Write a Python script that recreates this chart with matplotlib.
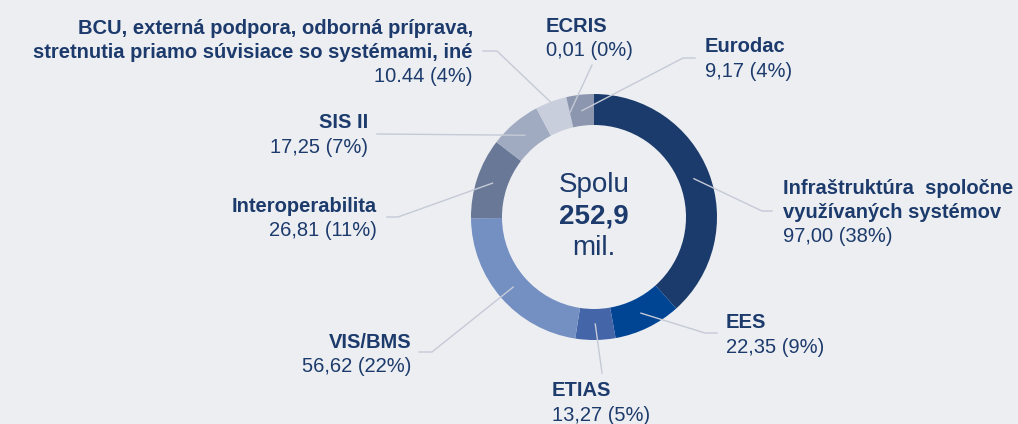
import numpy as np
import matplotlib
matplotlib.use("Agg")
import matplotlib.pyplot as plt

# data (clockwise from 12 o'clock)
names = ["Infraštruktúra  spoločne\nvyužívaných systémov", "EES", "ETIAS", "VIS/BMS",
         "Interoperabilita", "SIS II",
         "BCU, externá podpora, odborná príprava,\nstretnutia priamo súvisiace so systémami, iné",
         "ECRIS", "Eurodac"]
values = [97.00, 22.35, 13.27, 56.62, 26.81, 17.25, 10.44, 0.01, 9.17]
value_labels = ["97,00 (38%)", "22,35 (9%)", "13,27 (5%)", "56,62 (22%)", "26,81 (11%)",
                "17,25 (7%)", "10.44 (4%)", "0,01 (0%)", "9,17 (4%)"]
total_label = "252,9"

colors = ["#1a3b6b", "#004494", "#4565a9", "#7490c2", "#687896",
          "#a0aac0", "#c8cedb", "#b0b8c8", "#8c96ae"]
bg = "#eceef2"
txt = "#1c3a6b"
line_c = "#c5cad6"

W, H = 1018, 424
cx, cy, R, ring = 594, 217, 123, 31

# label layout in pixel coords (top-left origin): x, y of first bold line, alignment, elbow point, anchor radius
layout = [
    (783, 188, "left", (762, 211), 107),
    (726, 323, "left", (705, 333), 107),
    (552, 391, "left", (602, 373), 107),
    (411, 342, "right", (432, 352), 107),
    (377, 206, "right", (398, 217), 107),
    (368, 123, "right", (377, 134), 107),
    (473, 28, "right", (497, 51), 122),
    (546, 26, "left", (592, 65), 107),
    (705, 47, "left", (683, 58), 107),
]
starts = {5: (377, 134), 4: (387, 217), 3: (419, 352), 6: (483, 51),
          0: (772, 211), 1: (717, 333), 8: (695, 58)}
step = 24.5

fig = plt.figure(figsize=(W / 100, H / 100), dpi=100, facecolor=bg)
ax = fig.add_axes([0, 0, 1, 1])
ax.set_facecolor(bg)

def Y(y):
    return H - y

ax.pie(values, colors=colors, startangle=90, counterclock=False,
       center=(cx, Y(cy)), radius=R,
       wedgeprops=dict(width=ring, linewidth=0))
ax.set_xlim(0, W)
ax.set_ylim(0, H)
ax.set_aspect("equal")
ax.axis("off")

fam = ["Liberation Sans", "DejaVu Sans"]
cum = np.cumsum([0] + values[:-1])
tot = sum(values)
for i, (x, y, ha, elbow, rr) in enumerate(layout):
    mid = (cum[i] + values[i] / 2) / tot * 360
    ang = np.deg2rad(90 - mid)
    px, py = cx + rr * np.cos(ang), cy - rr * np.sin(ang)
    pts = [elbow, (px, py)]
    if i in starts:
        pts = [starts[i]] + pts
    ax.plot([p[0] for p in pts], [Y(p[1]) for p in pts], color=line_c, lw=1.0, zorder=1)
    lines = names[i].split("\n")
    for k, ln in enumerate(lines):
        ax.text(x, Y(y + k * step), ln, ha=ha, va="center", fontsize=14.5,
                fontweight="bold", color=txt, family=fam)
    ax.text(x, Y(y + len(lines) * step), value_labels[i], ha=ha, va="center",
            fontsize=14.5, color=txt, family=fam)

ax.text(cx, Y(185), "Spolu", ha="center", va="center", fontsize=20, color=txt, family=fam)
ax.text(cx, Y(216), total_label, ha="center", va="center", fontsize=20, fontweight="bold",
        color=txt, family=fam)
ax.text(cx, Y(248), "mil.", ha="center", va="center", fontsize=20, color=txt, family=fam)

fig.savefig("out.png", dpi=100, facecolor=bg)
